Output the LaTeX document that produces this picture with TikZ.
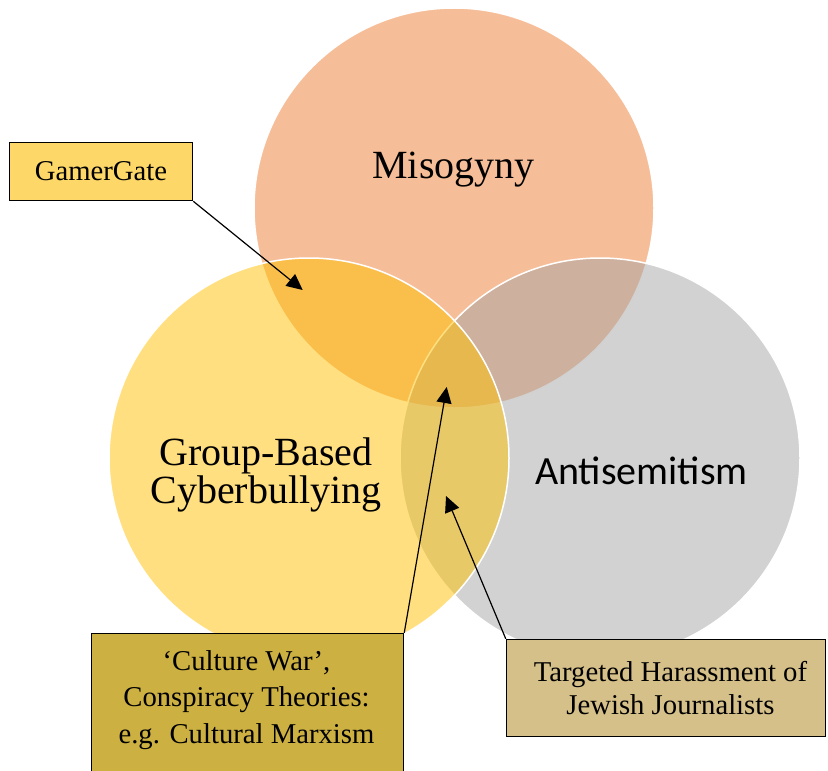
\documentclass[tikz,border=0pt]{standalone}
\usepackage{fontspec}
\setmainfont{Liberation Serif}
\newfontfamily\calibrifont{Carlito}
\usetikzlibrary{arrows.meta}
\definecolor{misoorange}{HTML}{ED7D31}
\definecolor{antigrey}{HTML}{A5A5A5}
\definecolor{cybergold}{HTML}{FFC000}
\definecolor{gamergold}{HTML}{FDD868}
\definecolor{culturegold}{HTML}{CCB042}
\definecolor{jewishtan}{HTML}{D5C089}
\tikzset{venn/.style={circle,minimum size=400bp,inner sep=0pt,draw=white,
line width=1.5bp,fill opacity=0.5},
callout/.style={rectangle,draw=black,line width=1.5bp,inner sep=0pt},
boxtext/.style={inner sep=0pt,align=center,font=\fontsize{28.7bp}{35bp}\selectfont},
vennlabel/.style={inner sep=0pt,align=center,font=\fontsize{40bp}{38.3bp}\selectfont},
pointer/.style={-{Triangle[length=16bp,width=15bp]},line width=1.2bp}}

\begin{document}
\begin{tikzpicture}[x=1bp,y=-1bp]
  \useasboundingbox (0,0) rectangle (828,771);
  \clip (0,0) rectangle (828,771);
  \node (misocircle) [venn,fill=misoorange] at (454,208) {};
  \node (anticircle) [venn,fill=antigrey] at (600,458) {};
  \node (cybercircle) [venn,fill=cybergold] at (309,458) {};
  \node (misogyny) [vennlabel,anchor=base] at (453.5,178.3) {Misogyny};
  \node (cyberbullying) [vennlabel] at (266,474.9) {Group-Based\\Cyberbullying};
  \node (antisemitism) [vennlabel,anchor=base,
    font=\calibrifont\fontsize{40bp}{40bp}\selectfont] at (641.5,484) {Antisemitism};
  \coordinate (gamertip) at (302.7,290);
  \coordinate (culturetip) at (446.7,387);
  \coordinate (jewishtip) at (446,496);
  \node (gamergate) [callout,fill=gamergold,minimum width=183bp,minimum height=58bp]
    at (101,171.5) {};
  \node (gamertext) [boxtext] at (gamergate.center) {GamerGate};
  \node (culture) [callout,fill=culturegold,minimum width=312bp,minimum height=160bp,
    anchor=north west] at (90.75,632.75) {};
  \node (culturetext) [boxtext,font=\fontsize{28.7bp}{36.5bp}\selectfont]
    at (246.5,699.9) {‘Culture War’,\\Conspiracy Theories:\\e.g. Cultural Marxism};
  \node (jewish) [callout,fill=jewishtan,minimum width=319bp,minimum height=97bp]
    at (666,688) {};
  \node (jewishtext) [boxtext,font=\fontsize{28.7bp}{33bp}\selectfont]
    at (670.5,688.5) {Targeted Harassment of\\Jewish Journalists};
  \draw [pointer] (gamergate.south east) -- (gamertip);
  \draw [pointer] (culture.north east) -- (culturetip);
  \draw [pointer] (jewish.north west) -- (jewishtip);
\end{tikzpicture}
\end{document}
